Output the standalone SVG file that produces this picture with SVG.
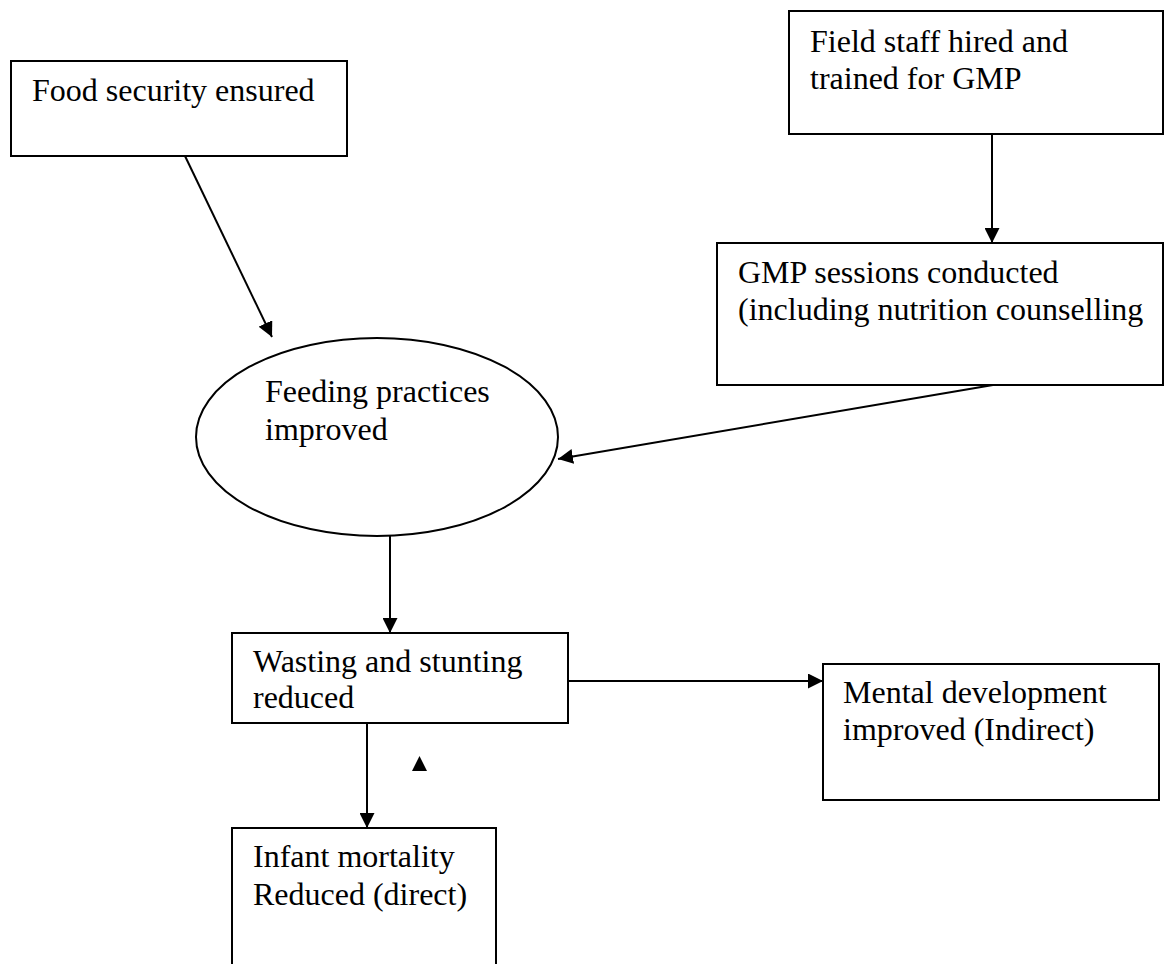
<svg xmlns="http://www.w3.org/2000/svg" width="1165" height="964" viewBox="0 0 1165 964">
<style>
.box{fill:#fff;stroke:#000;stroke-width:2}
.t{font-family:"Liberation Serif","Times New Roman",serif;font-size:32px;fill:#000}
.c{stroke:#000;stroke-width:2;fill:none}
</style>
<defs>
<marker id="ah" markerWidth="15" markerHeight="15" refX="15" refY="7.5" orient="auto" markerUnits="userSpaceOnUse">
<path d="M0,0 L15,7.5 L0,15 Z" fill="#000"/>
</marker>
</defs>
<rect width="1165" height="964" fill="#fff"/>
<g id="food">
<rect class="box" x="11" y="61" width="336" height="95"/>
<text class="t" x="32" y="101">Food security ensured</text>
</g>
<g id="field">
<rect class="box" x="789" y="11" width="374" height="123"/>
<text class="t" x="810" y="52">Field staff hired and</text>
<text class="t" x="810" y="89">trained for GMP</text>
</g>
<g id="gmp">
<rect class="box" x="717" y="243" width="446" height="142"/>
<text class="t" x="738" y="283">GMP sessions conducted</text>
<text class="t" x="738" y="320">(including nutrition counselling</text>
</g>
<g id="feeding">
<ellipse class="box" cx="377" cy="437" rx="181" ry="99"/>
<text class="t" x="265" y="402">Feeding practices</text>
<text class="t" x="265" y="440">improved</text>
</g>
<g id="wasting">
<rect class="box" x="232" y="633" width="336" height="90"/>
<text class="t" x="253" y="672">Wasting and stunting</text>
<text class="t" x="253" y="708">reduced</text>
</g>
<g id="mental">
<rect class="box" x="823" y="664" width="336" height="136"/>
<text class="t" x="843" y="703">Mental development</text>
<text class="t" x="843" y="740">improved (Indirect)</text>
</g>
<g id="infant">
<rect class="box" x="232" y="828" width="264" height="150"/>
<text class="t" x="253" y="867">Infant mortality</text>
<text class="t" x="253" y="905">Reduced (direct)</text>
</g>
<g id="connectors">
<line class="c" x1="185" y1="156" x2="272" y2="337" marker-end="url(#ah)"/>
<line class="c" x1="992" y1="134" x2="992" y2="243" marker-end="url(#ah)"/>
<line class="c" x1="993" y1="385" x2="558" y2="459" marker-end="url(#ah)"/>
<line class="c" x1="390" y1="536" x2="390" y2="633" marker-end="url(#ah)"/>
<line class="c" x1="568" y1="681" x2="823" y2="681" marker-end="url(#ah)"/>
<line class="c" x1="367" y1="723" x2="367" y2="828" marker-end="url(#ah)"/>
<path d="M419.5,756 L427,771 L412,771 Z" fill="#000"/>
</g>
</svg>
